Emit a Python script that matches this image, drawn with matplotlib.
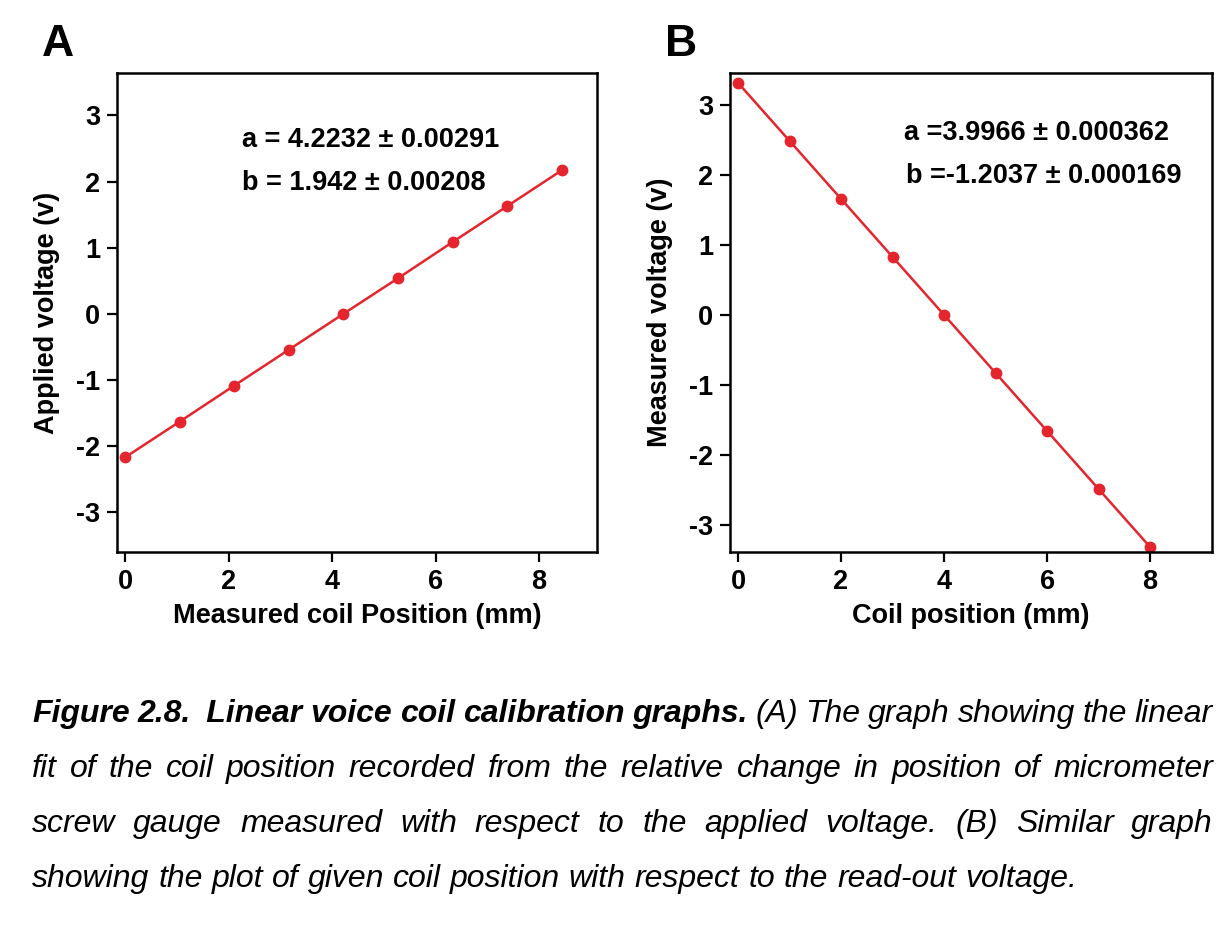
import numpy as np
import matplotlib
matplotlib.use('Agg')
import matplotlib.pyplot as plt

# panel A: measured coil position vs applied voltage
pos_a = [0.0, 1.055, 2.11, 3.17, 4.22, 5.28, 6.33, 7.39, 8.44]
volt_a = [-2.17, -1.63, -1.085, -0.54, 0.0, 0.54, 1.085, 1.63, 2.17]

# panel B: coil position vs measured voltage
pos_b = [0, 1, 2, 3, 4, 5, 6, 7, 8]
volt_b = [3.32, 2.49, 1.66, 0.83, 0.0, -0.83, -1.66, -2.49, -3.32]

fit_a = ['a = 4.2232 \u00b1 0.00291', 'b = 1.942 \u00b1 0.00208']
fit_b = ['a =3.9966 \u00b1 0.000362', 'b =-1.2037 \u00b1 0.000169']

caption = [
    [('Figure', 'bold'), ('2.8.\u2002Linear', 'bold'), ('voice', 'bold'), ('coil', 'bold'),
     ('calibration', 'bold'), ('graphs.', 'bold'), ('(A)', 'normal'), ('The', 'normal'),
     ('graph', 'normal'), ('showing', 'normal'), ('the', 'normal'), ('linear', 'normal')],
    'fit of the coil position recorded from the relative change in position of micrometer',
    'screw gauge measured with respect to the applied voltage. (B) Similar graph',
    'showing the plot of given coil position with respect to the read-out voltage.',
]

plt.rcParams['font.family'] = 'Liberation Sans'
plt.rcParams['font.weight'] = 'bold'
plt.rcParams['axes.unicode_minus'] = False

red = '#e5252d'
fs = 19.5

fig = plt.figure(figsize=(12.3, 9.51), dpi=100)
W, H = 1230, 951


def px_axes(l, t, r, b):
    return fig.add_axes([l / W, 1 - b / H, (r - l) / W, (b - t) / H])


def style(ax):
    for s in ax.spines.values():
        s.set_linewidth(1.8)
    ax.tick_params(direction='out', length=7, width=1.6, labelsize=fs, pad=5)
    for lab in ax.get_xticklabels() + ax.get_yticklabels():
        lab.set_fontweight('bold')


axA = px_axes(117, 73, 597, 552)
axA.plot(pos_a, volt_a, '-o', color=red, lw=1.8, ms=7.5)
axA.set_xlim(-0.155, 9.12)
axA.set_ylim(-3.6, 3.64)
axA.set_xticks([0, 2, 4, 6, 8])
axA.set_yticks([-3, -2, -1, 0, 1, 2, 3])
axA.set_xlabel('Measured coil Position (mm)', fontsize=fs, fontweight='bold', labelpad=6)
axA.set_ylabel('Applied voltage (v)', fontsize=fs, fontweight='bold', labelpad=12)
style(axA)
axA.text(0.26, 0.86, fit_a[0], transform=axA.transAxes, fontsize=fs, fontweight='bold', va='center')
axA.text(0.26, 0.77, fit_a[1], transform=axA.transAxes, fontsize=fs, fontweight='bold', va='center')

axB = px_axes(730, 73, 1212, 552)
axB.plot(pos_b, volt_b, '-o', color=red, lw=1.8, ms=7.5)
axB.set_xlim(-0.155, 9.2)
axB.set_ylim(-3.39, 3.46)
axB.set_xticks([0, 2, 4, 6, 8])
axB.set_yticks([-3, -2, -1, 0, 1, 2, 3])
axB.set_xlabel('Coil position (mm)', fontsize=fs, fontweight='bold', labelpad=6)
axB.set_ylabel('Measured voltage (v)', fontsize=fs, fontweight='bold', labelpad=12)
style(axB)
axB.text(0.36, 0.875, fit_b[0], transform=axB.transAxes, fontsize=fs, fontweight='bold', va='center')
axB.text(0.365, 0.785, fit_b[1], transform=axB.transAxes, fontsize=fs, fontweight='bold', va='center')

fig.text(42 / W, 1 - 44 / H, 'A', fontsize=32, fontweight='bold', va='center')
fig.text(665 / W, 1 - 44 / H, 'B', fontsize=32, fontweight='bold', va='center')

# caption, justified by hand
cfs = 23
x0, x1 = 32, 1213
line_y = [714, 769, 824, 879]
renderer = fig.canvas.get_renderer()
for i, line in enumerate(caption):
    if isinstance(line, str):
        words = [(w, 'normal') for w in line.split()]
    else:
        words = line
    texts = [fig.text(0, 1 - line_y[i] / H, w, fontsize=cfs, style='italic',
                      fontweight=wt, va='center') for w, wt in words]
    widths = [t.get_window_extent(renderer).width for t in texts]
    if i < len(caption) - 1:
        gap = (x1 - x0 - sum(widths)) / (len(widths) - 1)
    else:
        gap = 0.28 * cfs * 100 / 72
    x = x0
    for t, w in zip(texts, widths):
        t.set_x(x / W)
        x += w + gap

fig.savefig('out.png', dpi=100)
